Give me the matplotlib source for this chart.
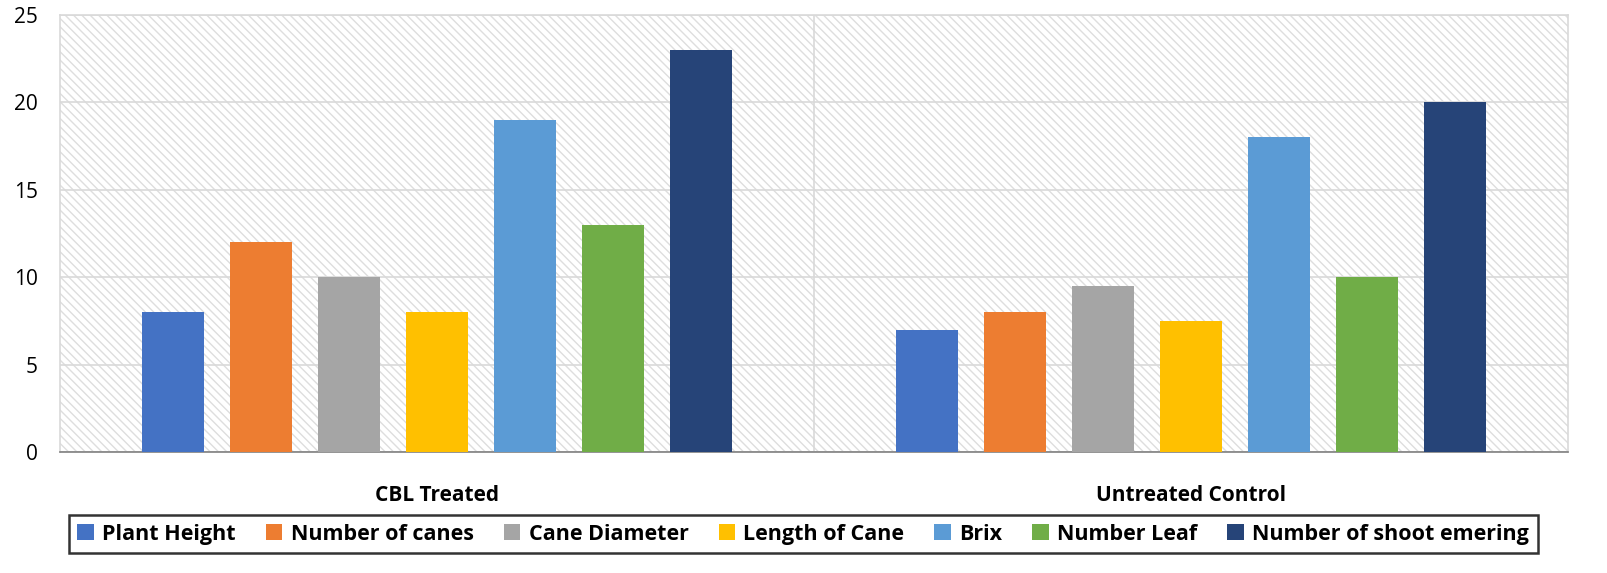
import numpy as np
import matplotlib.pyplot as plt
from matplotlib.patches import Rectangle

categories = ["CBL Treated", "Untreated Control"]
series = ["Plant Height", "Number of canes", "Cane Diameter", "Length of Cane",
          "Brix", "Number Leaf", "Number of shoot emering"]
values = {
    "Plant Height": [8, 7],
    "Number of canes": [12, 8],
    "Cane Diameter": [10, 9.5],
    "Length of Cane": [8, 7.5],
    "Brix": [19, 18],
    "Number Leaf": [13, 10],
    "Number of shoot emering": [23, 20],
}
colors = ["#4472C4", "#ED7D31", "#A5A5A5", "#FFC000", "#5B9BD5", "#70AD47", "#264478"]
yticks = [0, 5, 10, 15, 20, 25]

plt.rcParams['font.family'] = ['Open Sans', 'DejaVu Sans']
plt.rcParams['hatch.linewidth'] = 1.0

fig = plt.figure(figsize=(16.08, 5.73), dpi=100)
ax = fig.add_axes([0.0373, 0.2112, 0.9378, 0.7626])

# hatched plot-area background
ax.add_patch(Rectangle((0, 0), 1, 1, transform=ax.transAxes, facecolor='white',
                       edgecolor='#DEDEDE', linewidth=0, hatch='\\\\\\\\', zorder=0))

x = np.arange(len(categories))
step = 0.1167
width = 0.082
for i, (name, col) in enumerate(zip(series, colors)):
    ax.bar(x + (i - 3) * step, values[name], width, color=col, label=name, zorder=3)

ax.set_xlim(-0.5, 1.5)
ax.set_ylim(0, 25)
ax.set_yticks(yticks)
ax.set_xticks(x)
ax.set_xticklabels(categories, fontsize=15, fontweight='bold')
ax.tick_params(axis='y', length=0, labelsize=15, pad=16)
ax.tick_params(axis='x', length=0, pad=24)
ax.yaxis.grid(True, color='#D9D9D9', linewidth=1.2, zorder=1)
ax.set_axisbelow(True)
ax.axvline(0.5, color='#D9D9D9', linewidth=1.2, zorder=1)

for s in ['top', 'left', 'right']:
    ax.spines[s].set_color('#D9D9D9')
    ax.spines[s].set_linewidth(1.2)
ax.spines['bottom'].set_color('#808080')
ax.spines['bottom'].set_linewidth(1.2)

leg = fig.legend(loc='center', bbox_to_anchor=(0.4995, 0.068), ncol=7,
                 frameon=True, fancybox=False, edgecolor='black',
                 prop={'weight': 'bold', 'size': 15.5},
                 handlelength=0.75, handleheight=0.75, handletextpad=0.4,
                 columnspacing=1.4, borderpad=0.4)
leg.get_frame().set_linewidth(1.8)

fig.savefig("out.png", dpi=100)
